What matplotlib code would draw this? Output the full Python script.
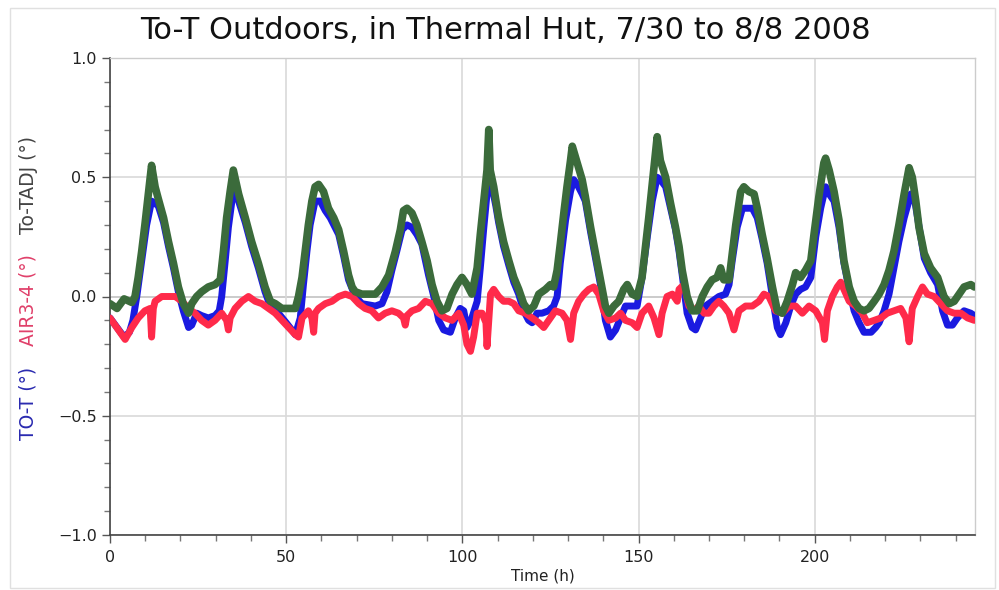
import matplotlib
matplotlib.use("Agg")
import matplotlib.pyplot as plt
from matplotlib.ticker import MultipleLocator
from matplotlib.patches import Rectangle

title = "To-T Outdoors, in Thermal Hut, 7/30 to 8/8 2008"
xlabel = "Time (h)"
ylabel_parts = ["TO-T (°)", "AIR3-4 (°)", "To-TADJ (°)"]

# To-TADJ (green)
t_tadj = [0, 2, 4, 6.2, 7.1, 8.0, 9.0, 9.9, 10.9, 11.8, 12.8, 13.7, 15.2, 16.6, 18.0, 19.4, 20.8, 22.3,
          23.2, 24.6, 26.0, 27.9, 29.8, 31.3, 32.2, 33.1, 34.1, 35.0, 36.5, 38.4, 40.2, 42.1, 44.0, 45.5,
          46.9, 48.8, 50.7, 52.6, 53.5, 54.5, 55.4, 56.3, 57.3, 58.2, 59.2, 60.6, 62.0, 63.5, 64.9, 66.3,
          67.7, 68.7, 69.6, 71.5, 73.4, 75.3, 77.2, 79.1, 81.0, 82.4, 83.3, 84.3, 85.7, 87.1, 88.5, 90.0,
          91.4, 92.8, 94.2, 95.6, 97.1, 98.5, 99.9, 101.3, 102.7, 104.2, 105.1, 106.1, 107.0, 107.5, 107.9,
          108.9, 110.3, 111.7, 113.2, 114.6, 116.0, 117.4, 118.8, 120.3, 121.7, 123.6, 125.0, 125.9, 126.9,
          127.8, 128.8, 129.7, 130.7, 131.2, 132.6, 134.0, 134.9, 136.4, 137.8, 139.2, 140.6, 141.6, 143.0,
          144.4, 145.8, 146.8, 148.2, 149.6, 151.0, 152.0, 152.9, 153.9, 154.8, 155.3, 156.2, 157.7, 159.1,
          160.5, 161.5, 162.4, 163.8, 165.2, 166.7, 168.1, 169.5, 170.9, 172.3, 173.3, 174.2, 175.7, 176.6,
          177.6, 179.0, 179.9, 181.3, 182.8, 183.7, 185.1, 186.5, 188.0, 189.4, 190.8, 192.2, 193.7, 194.6,
          196.0, 197.4, 198.9, 199.8, 201.2, 202.6, 203.1, 204.1, 205.5, 206.9, 208.3, 209.8, 211.2, 212.6,
          214.0, 215.4, 216.9, 218.3, 219.7, 221.1, 222.5, 223.9, 225.4, 226.8, 227.7, 228.7, 229.6, 231.1,
          232.9, 234.9, 236.7, 238.2, 239.6, 241.0, 242.4, 244.3, 245.3]
v_tadj = [-0.03, -0.05, -0.01, -0.025, 0.0, 0.08, 0.19, 0.30, 0.43, 0.55, 0.46, 0.41, 0.33, 0.23, 0.14, 0.04,
          -0.03, -0.07, -0.03, 0.0, 0.02, 0.04, 0.05, 0.07, 0.19, 0.33, 0.44, 0.53, 0.43, 0.33, 0.23, 0.14,
          0.04, -0.02, -0.03, -0.05, -0.05, -0.05, 0.0, 0.08, 0.19, 0.30, 0.40, 0.46, 0.47, 0.44, 0.37, 0.33,
          0.28, 0.19, 0.09, 0.04, 0.02, 0.01, 0.01, 0.01, 0.04, 0.09, 0.19, 0.28, 0.36, 0.37, 0.35, 0.30,
          0.23, 0.15, 0.05, -0.02, -0.06, -0.05, 0.01, 0.05, 0.08, 0.05, 0.01, 0.12, 0.26, 0.40, 0.53, 0.70,
          0.53, 0.46, 0.33, 0.23, 0.15, 0.08, 0.03, -0.03, -0.06, -0.04, 0.01, 0.03, 0.05, 0.04, 0.11, 0.22,
          0.35, 0.46, 0.57, 0.63, 0.56, 0.49, 0.42, 0.29, 0.18, 0.07, -0.04, -0.07, -0.04, -0.02, 0.03, 0.05,
          0.01, 0.0, 0.08, 0.21, 0.33, 0.47, 0.60, 0.67, 0.57, 0.50, 0.39, 0.29, 0.21, 0.11, 0.0, -0.06,
          -0.06, 0.0, 0.04, 0.07, 0.08, 0.12, 0.07, 0.07, 0.18, 0.30, 0.44, 0.46, 0.44, 0.43, 0.37, 0.26,
          0.16, 0.04, -0.06, -0.07, -0.02, 0.05, 0.10, 0.08, 0.11, 0.15, 0.26, 0.42, 0.56, 0.58, 0.53, 0.44,
          0.32, 0.15, 0.04, -0.02, -0.05, -0.06, -0.05, -0.02, 0.01, 0.05, 0.11, 0.19, 0.30, 0.43, 0.54,
          0.50, 0.40, 0.29, 0.18, 0.12, 0.08, 0.0, -0.03, -0.02, 0.01, 0.04, 0.05, 0.04]

# TO-T (blue)
t_tot = [0, 2, 4, 5.5, 6.5, 7.6, 9.0, 10.4, 11.8, 12.8, 13.7, 15.2, 16.6, 18.0, 19.4, 20.8, 22.3, 23.2,
         24.6, 26.0, 27.9, 29.8, 31.0, 31.7, 32.7, 33.6, 34.6, 35.5, 36.5, 38.4, 40.2, 42.1, 44.0, 45.5,
         47.8, 50.0, 51.6, 52.6, 54.0, 54.9, 55.9, 56.8, 58.2, 59.7, 61.1, 62.5, 64.9, 66.3, 67.7, 69.6,
         71.5, 75.3, 77.2, 78.6, 80.0, 81.4, 82.9, 84.3, 85.7, 87.1, 88.5, 90.4, 91.9, 93.3, 94.7, 96.6,
         98.0, 99.4, 100.4, 101.3, 102.7, 104.2, 105.1, 106.1, 107.0, 107.5, 108.4, 109.5, 110.3, 111.7,
         113.2, 114.6, 116.0, 117.4, 118.8, 119.8, 121.2, 122.6, 124.5, 125.9, 126.9, 127.8, 129.3, 130.7,
         131.6, 132.6, 134.0, 134.9, 136.4, 137.8, 139.2, 140.6, 142.0, 143.5, 144.9, 146.3, 148.2, 149.6,
         151.0, 152.5, 153.9, 155.3, 156.2, 157.7, 159.1, 160.5, 161.5, 162.4, 163.8, 165.2, 166.2, 167.6,
         169.0, 170.9, 172.8, 174.7, 175.7, 176.6, 178.0, 179.5, 180.9, 182.3, 183.7, 185.1, 186.5, 188.0,
         189.4, 190.3, 191.8, 193.2, 194.6, 196.0, 197.4, 198.9, 200.3, 201.7, 203.1, 204.1, 205.5, 206.9,
         208.3, 209.8, 211.2, 212.6, 214.0, 216.0, 217.3, 218.3, 219.7, 221.1, 222.5, 223.9, 225.4, 227.3,
         228.2, 229.2, 231.1, 232.9, 234.9, 236.3, 237.7, 239.1, 240.5, 242.4, 244.3, 245.3]
v_tot = [-0.09, -0.13, -0.17, -0.15, -0.10, 0.0, 0.15, 0.30, 0.40, 0.39, 0.38, 0.31, 0.21, 0.12, 0.02,
         -0.06, -0.13, -0.12, -0.07, -0.08, -0.09, -0.08, -0.06, 0.0, 0.15, 0.29, 0.40, 0.44, 0.40, 0.31,
         0.21, 0.12, 0.02, -0.04, -0.07, -0.11, -0.14, -0.16, -0.09, 0.05, 0.19, 0.30, 0.40, 0.40, 0.36,
         0.33, 0.26, 0.17, 0.07, 0.0, -0.03, -0.04, -0.03, 0.02, 0.11, 0.19, 0.28, 0.30, 0.29, 0.26, 0.22,
         0.09, 0.0, -0.10, -0.14, -0.15, -0.09, -0.05, -0.06, -0.13, -0.09, -0.02, 0.12, 0.29, 0.43, 0.49,
         0.46, 0.38, 0.31, 0.21, 0.13, 0.06, 0.01, -0.06, -0.10, -0.11, -0.07, -0.07, -0.06, -0.04, 0.0,
         0.14, 0.32, 0.44, 0.49, 0.47, 0.43, 0.40, 0.27, 0.16, 0.05, -0.10, -0.17, -0.14, -0.09, -0.04,
         -0.04, -0.04, 0.08, 0.25, 0.40, 0.50, 0.49, 0.46, 0.37, 0.28, 0.19, 0.09, -0.07, -0.13, -0.14,
         -0.09, -0.04, -0.02, 0.0, 0.01, 0.05, 0.15, 0.29, 0.37, 0.37, 0.37, 0.33, 0.24, 0.14, 0.0, -0.13,
         -0.16, -0.11, -0.04, 0.01, 0.03, 0.04, 0.08, 0.25, 0.37, 0.46, 0.43, 0.40, 0.29, 0.14, 0.03,
         -0.06, -0.11, -0.15, -0.15, -0.13, -0.11, -0.06, 0.01, 0.12, 0.23, 0.33, 0.43, 0.42, 0.33, 0.16,
         0.10, 0.05, -0.06, -0.12, -0.12, -0.09, -0.06, -0.07, -0.08]

# AIR3-4 (red)
t_air = [0, 2.4, 4.3, 6.2, 8.0, 9.9, 11.4, 11.8, 12.3, 12.8, 14.7, 16.6, 18.5, 20.4, 22.3, 24.1, 26.0,
         27.9, 29.8, 31.7, 33.1, 33.6, 34.1, 35.5, 37.4, 39.3, 41.2, 43.1, 45.0, 46.9, 48.8, 50.7, 52.6,
         53.5, 54.5, 56.3, 57.3, 57.8, 58.2, 59.2, 61.1, 63.0, 64.9, 66.8, 68.7, 70.6, 72.4, 74.3, 76.2,
         78.1, 80.0, 81.9, 83.3, 83.8, 84.3, 85.7, 87.6, 89.5, 91.4, 93.3, 95.2, 97.1, 99.0, 100.4, 101.3,
         102.3, 103.2, 104.2, 105.6, 106.7, 107.0, 108.0, 108.9, 110.3, 111.7, 113.2, 114.6, 116.0, 117.9,
         119.8, 121.7, 123.1, 124.5, 126.4, 128.3, 129.7, 130.7, 131.6, 133.0, 134.5, 135.9, 137.3, 138.7,
         140.1, 141.6, 143.5, 144.9, 146.3, 148.2, 149.6, 151.0, 152.9, 154.4, 155.8, 156.7, 158.1, 159.6,
         161.0, 161.5, 162.9, 164.3, 165.7, 167.1, 168.6, 170.0, 171.4, 172.8, 174.2, 175.7, 177.1, 178.5,
         180.4, 182.3, 184.2, 185.6, 187.0, 188.9, 190.8, 192.7, 194.6, 196.5, 198.4, 200.3, 202.2, 202.8,
         203.6, 205.0, 206.4, 207.4, 208.3, 209.8, 211.6, 213.5, 214.9, 216.9, 218.8, 220.6, 222.5, 224.4,
         225.9, 226.8, 227.7, 229.2, 230.6, 232.0, 233.9, 235.8, 237.7, 239.6, 241.5, 243.4, 245.3]
v_air = [-0.09, -0.14, -0.18, -0.13, -0.09, -0.06, -0.05, -0.17, -0.05, -0.02, 0.0, 0.0, 0.0, -0.02,
         -0.05, -0.07, -0.10, -0.12, -0.10, -0.07, -0.10, -0.14, -0.09, -0.05, -0.02, 0.0, -0.02, -0.03,
         -0.05, -0.07, -0.10, -0.13, -0.16, -0.17, -0.09, -0.06, -0.09, -0.15, -0.07, -0.05, -0.03, -0.02,
         0.0, 0.01, 0.0, -0.03, -0.05, -0.06, -0.09, -0.07, -0.06, -0.07, -0.09, -0.12, -0.08, -0.06,
         -0.05, -0.02, -0.03, -0.07, -0.09, -0.10, -0.07, -0.12, -0.20, -0.23, -0.17, -0.07, -0.07, -0.11,
         -0.21, 0.01, 0.03, 0.0, -0.02, -0.02, -0.03, -0.06, -0.07, -0.09, -0.11, -0.13, -0.10, -0.06,
         -0.07, -0.10, -0.18, -0.07, -0.02, 0.01, 0.03, 0.04, 0.01, -0.06, -0.10, -0.09, -0.07, -0.10,
         -0.11, -0.13, -0.07, -0.04, -0.09, -0.16, -0.07, 0.0, 0.01, -0.02, 0.03, 0.05, -0.04, -0.06,
         -0.04, -0.07, -0.07, -0.04, -0.02, -0.04, -0.07, -0.14, -0.06, -0.04, -0.04, -0.02, 0.01, 0.0,
         -0.06, -0.07, -0.04, -0.04, -0.07, -0.04, -0.06, -0.11, -0.18, -0.06, 0.0, 0.04, 0.06, 0.03,
         -0.02, -0.04, -0.07, -0.11, -0.10, -0.09, -0.07, -0.06, -0.05, -0.09, -0.19, -0.05, 0.0, 0.04,
         0.01, 0.0, -0.03, -0.06, -0.07, -0.07, -0.09, -0.10]

x_ticks = [0, 50, 100, 150, 200]
y_ticks = [-1.0, -0.5, 0.0, 0.5, 1.0]

c_blue = "#1a1ae0"
c_red = "#ff2a4a"
c_green = "#3b6b3b"

fig = plt.figure(figsize=(9.99, 5.90), dpi=100)
fig.patch.set_facecolor("white")
ax = fig.add_axes([110 / 999, 55 / 590, 865 / 999, 477 / 590])

ax.grid(True, which="major", color="#d9d9d9", lw=1.2, zorder=0)
ax.axhline(0, color="#7a7a7a", lw=1.2, zorder=1)

ax.plot(t_tot, v_tot, color=c_blue, lw=5.0, solid_joinstyle="round", solid_capstyle="round", zorder=3)
ax.plot(t_air, v_air, color=c_red, lw=5.0, solid_joinstyle="round", solid_capstyle="round", zorder=4)
ax.plot(t_tadj, v_tadj, color=c_green, lw=5.5, solid_joinstyle="round", solid_capstyle="round", zorder=5)

ax.set_xlim(0, 245.5)
ax.set_ylim(-1.0, 1.0)
ax.set_xticks(x_ticks)
ax.set_xticklabels([str(v) for v in x_ticks])
ax.set_yticks(y_ticks)
ax.set_yticklabels([f"{v:.1f}".replace("-", "\u2212") for v in y_ticks])
ax.xaxis.set_minor_locator(MultipleLocator(10))
ax.yaxis.set_minor_locator(MultipleLocator(0.1))
ax.tick_params(which="major", direction="out", length=6, width=1, color="#555555",
               labelsize=11.5, labelcolor="#222222")
ax.tick_params(which="minor", direction="out", length=4, width=1, color="#777777")
ax.tick_params(axis="x", pad=5)

for side in ["left", "bottom"]:
    ax.spines[side].set_color("#444444")
    ax.spines[side].set_linewidth(1.2)
for side in ["top", "right"]:
    ax.spines[side].set_color("#cccccc")
    ax.spines[side].set_linewidth(1.0)

ax.set_xlabel(xlabel, fontsize=11, color="#222222", labelpad=2)
fig.text(0.5055, 0.948, title, ha="center", va="center", fontsize=22, color="#111111")

label_colors = ["#2a2ab0", "#e0406a", "#444444"]
label_y = [403, 300, 185]
for txt, col, yp in zip(ylabel_parts, label_colors, label_y):
    fig.text(28 / 999, 1 - yp / 590, txt, rotation=90, ha="center", va="center",
             fontsize=13.5, color=col)

fig.patches.append(Rectangle((10 / 999, 2 / 590), 985 / 999, 580 / 590, transform=fig.transFigure,
                             fill=False, edgecolor="#e0e0e0", lw=1))

fig.savefig("out.png", dpi=100)
